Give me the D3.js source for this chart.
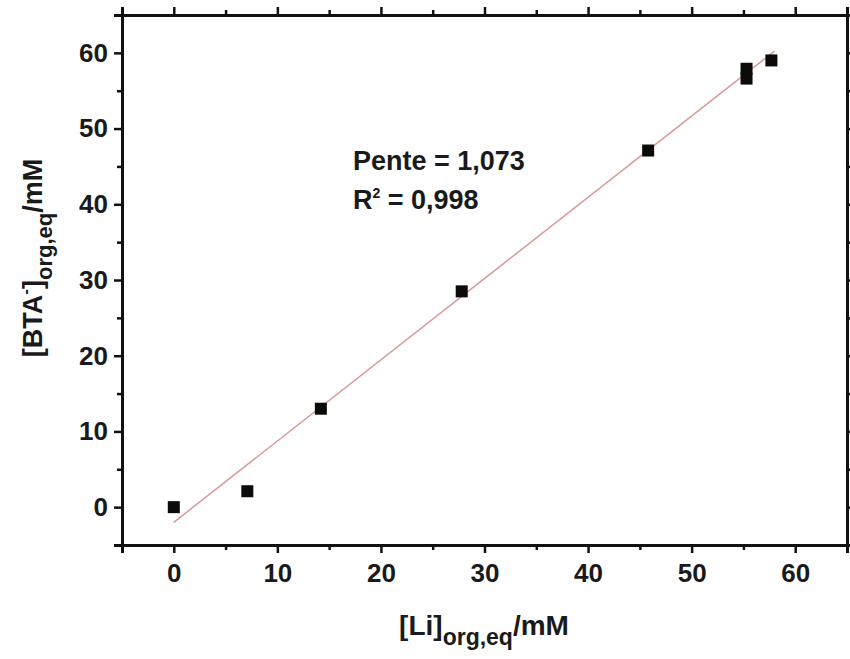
<!DOCTYPE html>
<meta charset="utf-8">
<style>
    body {margin: 0; background: #fff; font-family: 'Liberation Sans', Arial, sans-serif;}
    text {font-weight: bold; fill: #1a1a1a;}
</style>
<svg width="850" height="659"></svg>
<script src="https://d3js.org/d3.v7.min.js"></script>
<script>

// data
var liOrg  = [0, 7.1, 14.2, 27.8, 45.8, 55.3, 55.3, 57.7];
var btaOrg = [0, 2.1, 13.0, 28.5, 47.1, 57.9, 56.6, 59.0];
var slope = 1.073, intercept = -2.0;
var fitRange = [0, 58];
var tickVals = [0, 10, 20, 30, 40, 50, 60];
var minorVals = [-5, 5, 15, 25, 35, 45, 55, 65];

var svg = d3.select("svg"),
    margin = {left: 122, right: 3, top: 15, bottom: 114},
    width = +svg.attr("width") - margin.left - margin.right,
    height = +svg.attr("height") - margin.top - margin.bottom;

var g = svg.append("g").attr("transform", "translate(" + margin.left + "," + margin.top + ")");

var x = d3.scaleLinear().domain([-5, 65]).range([0, width]);
var y = d3.scaleLinear().domain([-5, 65]).range([height, 0]);

function styleAxis(sel) {
  sel.selectAll("path").attr("stroke", "#111").attr("stroke-width", 3);
  sel.selectAll("line").attr("stroke", "#111").attr("stroke-width", 2.5);
  sel.selectAll("text").style("font-size", "26px").attr("fill", "#1a1a1a");
}

// major ticks
g.append("g").attr("transform", "translate(0," + height + ")")
  .call(d3.axisBottom(x).tickValues(tickVals).tickSize(8).tickPadding(11).tickFormat(d3.format("d")))
  .call(styleAxis);
g.append("g")
  .call(d3.axisLeft(y).tickValues(tickVals).tickSize(8).tickPadding(6).tickFormat(d3.format("d")))
  .call(styleAxis);
g.append("g")
  .call(d3.axisTop(x).tickValues(tickVals).tickSize(8).tickFormat(""))
  .call(styleAxis);
g.append("g").attr("transform", "translate(" + width + ",0)")
  .call(d3.axisRight(y).tickValues(tickVals).tickSize(8).tickFormat(""))
  .call(styleAxis);

// minor ticks
g.append("g").attr("transform", "translate(0," + height + ")")
  .call(d3.axisBottom(x).tickValues(minorVals).tickSize(5).tickFormat(""))
  .call(styleAxis);
g.append("g")
  .call(d3.axisLeft(y).tickValues(minorVals).tickSize(5).tickFormat(""))
  .call(styleAxis);
g.append("g")
  .call(d3.axisTop(x).tickValues(minorVals).tickSize(5).tickFormat(""))
  .call(styleAxis);
g.append("g").attr("transform", "translate(" + width + ",0)")
  .call(d3.axisRight(y).tickValues(minorVals).tickSize(5).tickFormat(""))
  .call(styleAxis);

// fit line
g.append("line")
  .attr("x1", x(fitRange[0])).attr("y1", y(slope * fitRange[0] + intercept))
  .attr("x2", x(fitRange[1])).attr("y2", y(slope * fitRange[1] + intercept))
  .attr("stroke", "#d99a9a").attr("stroke-width", 1.5);

// points
var pts = liOrg.map(function(d, i) { return {x: d, y: btaOrg[i]}; });
var sq = 12;
g.selectAll("rect.pt").data(pts).enter().append("rect")
  .attr("class", "pt")
  .attr("x", function(d) { return x(d.x) - sq / 2; })
  .attr("y", function(d) { return y(d.y) - sq / 2; })
  .attr("width", sq).attr("height", sq)
  .attr("fill", "#0d0a0a");

// annotation
var ann = svg.append("g").style("font-size", "27px");
ann.append("text").attr("x", 353).attr("y", 170).text("Pente = 1,073");
var r2 = ann.append("text").attr("x", 353).attr("y", 209);
r2.append("tspan").text("R");
r2.append("tspan").attr("dy", -11).style("font-size", "14px").text("2");
r2.append("tspan").attr("dy", 11).text(" = 0,998");

// x label
var xl = svg.append("text").attr("x", 484).attr("y", 635).attr("text-anchor", "middle").style("font-size", "28px");
xl.append("tspan").text("[Li]");
xl.append("tspan").attr("dy", 10).style("font-size", "23px").text("org,eq");
xl.append("tspan").attr("dy", -10).text("/mM");

// y label
var yl = svg.append("text").attr("transform", "translate(42,258) rotate(-90)")
  .attr("text-anchor", "middle").style("font-size", "27px");
yl.append("tspan").text("[BTA");
yl.append("tspan").attr("dy", -11).style("font-size", "17px").text("-");
yl.append("tspan").attr("dy", 11).text("]");
yl.append("tspan").attr("dy", 10).style("font-size", "22px").text("org,eq");
yl.append("tspan").attr("dy", -10).text("/mM");

</script>
